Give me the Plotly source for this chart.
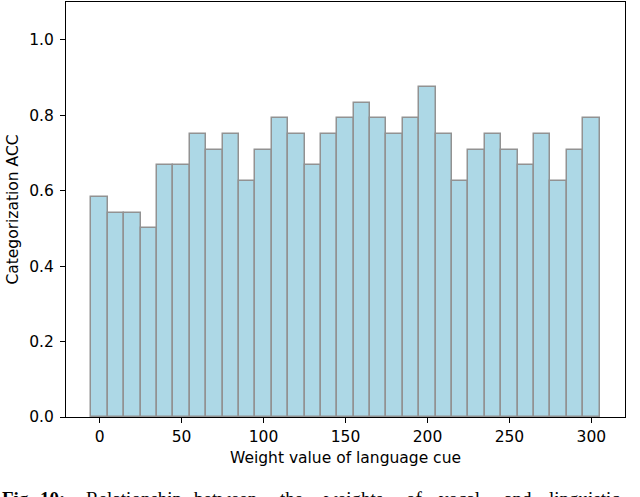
import plotly.graph_objects as go

# peso de la señal lingüística (centro de cada barra) y ACC obtenido
pesos = list(range(0, 310, 10))
acc = [0.583, 0.542, 0.542, 0.500, 0.667, 0.667, 0.750, 0.708, 0.750, 0.625,
       0.708, 0.792, 0.750, 0.667, 0.750, 0.792, 0.833, 0.792, 0.750, 0.792,
       0.875, 0.750, 0.625, 0.708, 0.750, 0.708, 0.667, 0.750, 0.625, 0.708,
       0.792]

ticks_x = [0, 50, 100, 150, 200, 250, 300]
ticks_y = [0.0, 0.2, 0.4, 0.6, 0.8, 1.0]

FUENTE = "DejaVu Sans"
ANCHO, ALTO = 640, 497
MARGEN = dict(l=66, r=15, t=2, b=80)

fig = go.Figure()

fig.add_trace(go.Bar(
    x=pesos,
    y=acc,
    width=10,
    marker=dict(color="#ADD8E6", line=dict(color="#929292", width=1.5)),
))

ejes = dict(
    showline=True,
    linecolor="black",
    linewidth=1.1,
    mirror=True,
    ticks="outside",
    ticklen=5,
    tickwidth=1.1,
    tickcolor="black",
    showgrid=False,
    zeroline=False,
    tickfont=dict(family=FUENTE, size=15.5, color="black"),
)

fig.update_xaxes(
    range=[-20.5, 320.5],
    tickvals=ticks_x,
    title=dict(text="Weight value of language cue",
               font=dict(family=FUENTE, size=15.5, color="black"), standoff=7),
    **ejes,
)
fig.update_yaxes(
    range=[0, 1.1],
    tickvals=ticks_y,
    tickformat=".1f",
    ticklabelstandoff=3,
    title=dict(text="Categorization ACC",
               font=dict(family=FUENTE, size=15.5, color="black"), standoff=6),
    **ejes,
)

# pie de figura del artículo (texto justificado), cortado por el borde inferior
ancho_plot = ANCHO - MARGEN["l"] - MARGEN["r"]
alto_plot = ALTO - MARGEN["t"] - MARGEN["b"]
pie = [("<b>Fig.</b>", 0), ("<b>10:</b>", 38), ("Relationship", 84),
       ("between", 192), ("the", 278), ("weights", 322), ("of", 404),
       ("vocal", 437), ("and", 502), ("linguistic", 547)]
for palabra, px in pie:
    fig.add_annotation(
        text=palabra,
        xref="paper", yref="paper",
        x=(px - MARGEN["l"]) / ancho_plot,
        y=-(486 - (ALTO - MARGEN["b"])) / alto_plot,
        xanchor="left", yanchor="top",
        showarrow=False,
        font=dict(family="Liberation Serif", size=19, color="black"),
    )

fig.update_layout(
    width=ANCHO,
    height=ALTO,
    margin=MARGEN,
    paper_bgcolor="white",
    plot_bgcolor="white",
    bargap=0,
    showlegend=False,
)

# quitar el margen por defecto del <body> para que la figura empiece en 0,0
fig.write_html("out.html", config={"displayModeBar": False},
               post_script="document.body.style.margin='0';")
